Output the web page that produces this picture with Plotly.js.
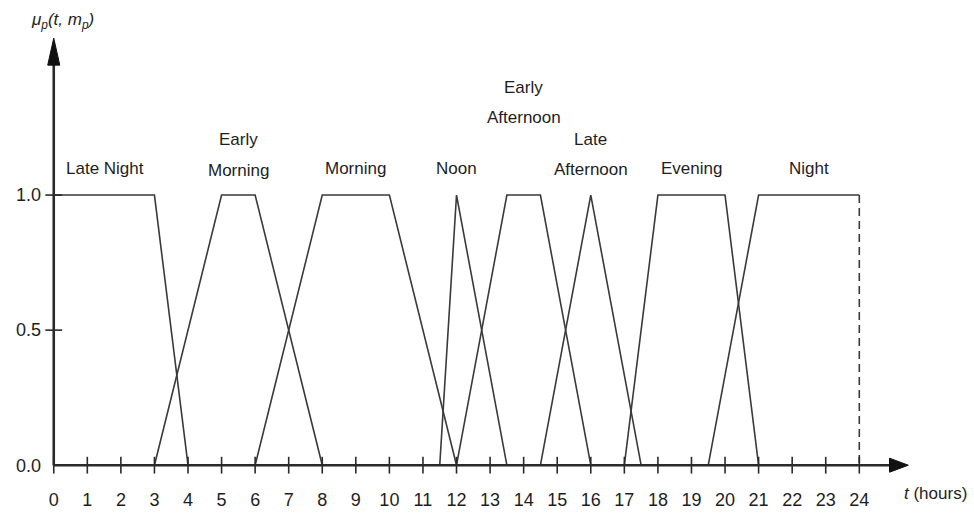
<!DOCTYPE html>
<html>
<head>
<meta charset="utf-8">
<script src="https://cdn.plot.ly/plotly-3.0.1.min.js"></script>
<style>html,body{margin:0;padding:0;background:#fff;}#chart{width:974px;height:519px;}</style>
</head>
<body>
<div id="chart"></div>
<script>
// ---- data ----
const hours = [0,1,2,3,4,5,6,7,8,9,10,11,12,13,14,15,16,17,18,19,20,21,22,23,24];
const yTickVals = [0.0, 0.5, 1.0];
const yTickText = ['0.0', '0.5', '1.0'];

const lateNightX = [0, 3, 4];            const lateNightY = [1, 1, 0];
const earlyMorningX = [3, 5, 6, 8];      const earlyMorningY = [0, 1, 1, 0];
const morningX = [6, 8, 10, 12];         const morningY = [0, 1, 1, 0];
const noonX = [11.5, 12, 13.5];          const noonY = [0, 1, 0];
const earlyAfternoonX = [12, 13.5, 14.5, 16]; const earlyAfternoonY = [0, 1, 1, 0];
const lateAfternoonX = [14.5, 16, 17.5]; const lateAfternoonY = [0, 1, 0];
const eveningX = [17, 18, 20, 21];       const eveningY = [0, 1, 1, 0];
const nightX = [19.5, 21, 24];           const nightY = [0, 1, 1];
const nightEndX = [24, 24];              const nightEndY = [1, 0];

const labelNames = ['Late Night', 'Early Morning', 'Morning', 'Noon', 'Early Afternoon', 'Late Afternoon', 'Evening', 'Night'];

// ---- styling / placement ----
const FONT = '"Liberation Sans", Arial, sans-serif';
const textColor = '#1e1e1e';
const lineColor = '#3a3a3a';
const axisColor = '#2a2a2a';
const labelPlace = {
  'Late Night':      {x: 1.53, lines: ['Late Night'], y: [1.10]},
  'Early Morning':   {x: 5.5,  lines: ['Early', 'Morning'], y: [1.205, 1.09]},
  'Morning':         {x: 9.0,  lines: ['Morning'], y: [1.10]},
  'Noon':            {x: 12.0, lines: ['Noon'], y: [1.10]},
  'Early Afternoon': {x: 14.0, lines: ['Early', 'Afternoon'], y: [1.40, 1.288]},
  'Late Afternoon':  {x: 16.0, lines: ['Late', 'Afternoon'], y: [1.205, 1.093]},
  'Evening':         {x: 19.0, lines: ['Evening'], y: [1.10]},
  'Night':           {x: 22.5, lines: ['Night'], y: [1.10]}
};

function seg(x, y, dash) {
  return {x: x, y: y, type: 'scatter', mode: 'lines', hoverinfo: 'skip', showlegend: false,
          line: {color: lineColor, width: 1.6, dash: dash || 'solid'}, cliponaxis: false};
}

const traces = [
  seg(lateNightX, lateNightY),
  seg(earlyMorningX, earlyMorningY),
  seg(morningX, morningY),
  seg(noonX, noonY),
  seg(earlyAfternoonX, earlyAfternoonY),
  seg(lateAfternoonX, lateAfternoonY),
  seg(eveningX, eveningY),
  seg(nightX, nightY),
  seg(nightEndX, nightEndY, '8px,5px'),
  {x: hours, y: hours.map(() => 0), type: 'scatter', mode: 'markers', hoverinfo: 'skip', showlegend: false,
   marker: {symbol: 'line-ns', size: 12, line: {color: axisColor, width: 1.6}}, cliponaxis: false},
  {x: yTickVals.slice(1).map(() => 0), y: yTickVals.slice(1), type: 'scatter', mode: 'markers', hoverinfo: 'skip', showlegend: false,
   marker: {symbol: 'line-ew', size: 12, line: {color: axisColor, width: 1.6}}, cliponaxis: false}
];

const W = 974, H = 519;
const margin = {l: 41.55, r: 61.35, t: 33, b: 43.2};
const pw = W - margin.l - margin.r, ph = H - margin.t - margin.b;
function px2paperX(px) { return (px - margin.l) / pw; }
function px2paperY(py) { return (H - margin.b - py) / ph; }

const annotations = [];
labelNames.forEach(name => {
  const p = labelPlace[name];
  p.lines.forEach((t, i) => {
    annotations.push({x: p.x, y: p.y[i], xref: 'x', yref: 'y', text: t, showarrow: false,
      font: {family: FONT, size: 17, color: textColor}, xanchor: 'center', yanchor: 'middle'});
  });
});
annotations.push({x: px2paperX(62), y: px2paperY(21), xref: 'paper', yref: 'paper', showarrow: false,
  text: '<i>μ<sub>p</sub>(t, m<sub>p</sub>)</i>', font: {family: FONT, size: 17, color: textColor},
  xanchor: 'center', yanchor: 'middle'});
annotations.push({x: px2paperX(935), y: px2paperY(493), xref: 'paper', yref: 'paper', showarrow: false,
  text: '<i>t</i> (hours)', font: {family: FONT, size: 17, color: textColor},
  xanchor: 'center', yanchor: 'middle'});

const shapes = [
  {type: 'line', xref: 'x', yref: 'y', x0: 0, y0: 0, x1: 24.95, y1: 0, line: {color: axisColor, width: 2.6}},
  {type: 'path', xref: 'x', yref: 'y', path: 'M 24.9,-0.026 L 25.46,0 L 24.9,0.026 Z', fillcolor: '#111', line: {color: '#111', width: 1}},
  {type: 'line', xref: 'x', yref: 'y', x0: 0, y0: 0, x1: 0, y1: 1.49, line: {color: axisColor, width: 2.6}},
  {type: 'path', xref: 'x', yref: 'y', path: 'M -0.18,1.481 L 0,1.581 L 0.18,1.481 Z', fillcolor: '#111', line: {color: '#111', width: 1}}
];

const layout = {
  width: W, height: H,
  margin: margin,
  paper_bgcolor: '#fff', plot_bgcolor: '#fff',
  showlegend: false,
  xaxis: {range: [-0.35, 25.6], tickvals: hours, ticktext: hours.map(String), showgrid: false, zeroline: false,
          showline: false, ticks: 'outside', ticklen: 7, tickcolor: 'rgba(0,0,0,0)',
          tickfont: {family: FONT, size: 18, color: textColor}, fixedrange: true},
  yaxis: {range: [-0.04, 1.6], tickvals: yTickVals, ticktext: yTickText, showgrid: false, zeroline: false,
          showline: false, ticks: '', tickfont: {family: FONT, size: 18, color: textColor}, fixedrange: true},
  annotations: annotations,
  shapes: shapes
};

Plotly.newPlot('chart', traces, layout, {staticPlot: true, displayModeBar: false});
</script>
</body>
</html>
